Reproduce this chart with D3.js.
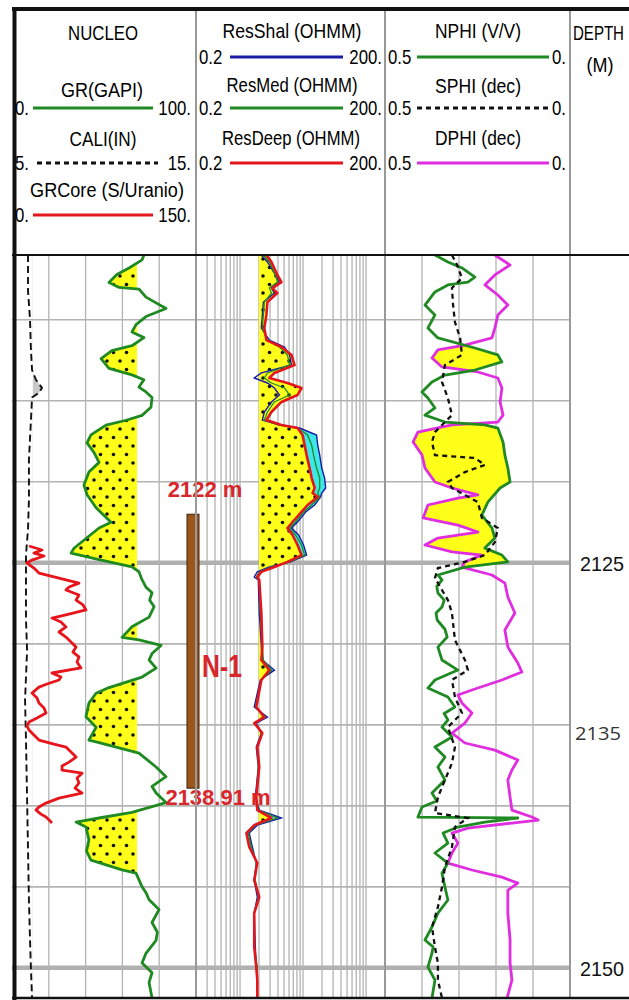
<!DOCTYPE html>
<html>
<head>
<meta charset="utf-8">
<script src="https://cdn.jsdelivr.net/npm/d3@7"></script>
<style>
  html, body { margin: 0; padding: 0; background: #fff; }
  svg { display: block; }
  .hdr { font-family: "Liberation Sans", Arial, sans-serif; font-size: 20px; fill: #000; }
  .core { font-family: "Liberation Sans", Arial, sans-serif; font-weight: bold; fill: #d8262a; }
</style>
</head>
<body>
<svg id="chart" width="629" height="1000"></svg>
<script>
// ---- scale ranges ----
const depthRange = [2106, 2151.86];
const grRange = [0, 100];
const caliRange = [5, 15];
const grCoreRange = [0, 150];
const resRange = [0.2, 200];
const porRange = [0.5, 0];

// ---- cutoffs ----
const grCutoff = 68;
const bitSize = 6.12;
const resBase = 2;

// ---- core interval ----
const coreTop = 2122;
const coreBottom = 2138.91;
const coreName = "N-1";

// ---- depth labels ----
const depthLabels = [2125, 2135, 2150];

// ---- Track 1: GR (GAPI) [depth, value] ----
const gr = [[2106.0,71.7],[2106.3,70.7],[2106.8,63.6],[2107.2,57.0],[2107.7,52.7],[2108.0,58.2],[2108.1,69.0],[2108.6,72.8],[2109.3,83.7],[2109.8,72.8],[2110.3,67.4],[2110.75,65.2],[2111.1,71.7],[2111.6,65.2],[2111.9,54.3],[2112.4,48.4],[2113.0,52.7],[2113.4,65.2],[2113.7,71.7],[2114.15,69.0],[2114.45,72.8],[2114.8,76.1],[2115.4,75.5],[2115.9,70.7],[2116.2,62.0],[2116.5,51.1],[2117.1,42.9],[2117.6,40.8],[2118.2,44.6],[2118.8,47.3],[2119.4,41.8],[2120.2,39.1],[2120.8,40.8],[2121.6,45.7],[2122.5,53.8],[2122.85,47.3],[2123.5,40.2],[2124.1,33.7],[2124.4,32.1],[2124.8,47.3],[2125.25,65.2],[2125.55,69.0],[2126.0,70.5],[2126.5,72.8],[2126.85,76.1],[2127.3,74.8],[2127.7,77.2],[2128.35,74.5],[2128.95,65.2],[2129.6,59.8],[2129.75,69.0],[2130.1,81.0],[2130.6,76.1],[2131.0,74.5],[2131.5,78.3],[2132.05,70.7],[2132.7,52.7],[2133.05,45.7],[2133.65,41.8],[2134.5,40.2],[2135.15,45.7],[2135.95,41.8],[2136.1,47.3],[2136.75,69.0],[2137.6,78.3],[2138.2,83.7],[2138.8,76.1],[2139.2,78.3],[2139.8,83.7],[2140.4,65.2],[2140.75,47.3],[2141.0,34.8],[2141.3,40.2],[2142.1,41.8],[2142.8,40.5],[2143.35,42.9],[2143.95,59.8],[2144.15,67.4],[2145.0,70.7],[2145.4,73.0],[2145.8,74.5],[2146.4,79.9],[2147.2,76.1],[2147.8,79.0],[2148.3,78.3],[2149.1,72.8],[2149.7,70.7],[2150.3,76.1],[2150.9,74.5],[2151.86,76.1]];

// ---- Track 1: CALI (IN) ----
const cali = [[2106.0,5.87],[2108.2,5.87],[2110.0,5.98],[2111.9,6.03],[2113.1,6.09],[2113.7,6.30],[2114.2,6.63],[2114.5,6.47],[2114.8,6.09],[2116.2,6.03],[2118.65,5.92],[2121.1,5.92],[2122.95,5.87],[2124.5,5.76],[2126.05,5.76],[2128.5,5.76],[2130.4,5.82],[2133.45,5.71],[2135.9,5.76],[2139.6,5.82],[2142.7,5.87],[2145.8,5.92],[2148.3,5.98],[2150.1,6.03],[2151.86,6.09]];

// ---- Track 1: GRCore (S/Uranio) ----
const grCore = [[2123.96,13.9],[2124.21,24.5],[2124.40,17.9],[2124.58,26.1],[2124.83,16.3],[2125.01,12.2],[2125.32,17.9],[2125.63,22.0],[2125.94,38.3],[2126.25,54.6],[2126.49,46.5],[2126.68,44.0],[2126.99,54.6],[2127.30,52.2],[2127.60,57.9],[2127.91,60.3],[2128.16,46.5],[2128.41,32.6],[2128.65,39.9],[2128.96,44.0],[2129.27,38.3],[2129.58,44.0],[2129.89,48.1],[2130.20,52.2],[2130.51,49.7],[2130.81,54.6],[2131.12,53.0],[2131.49,56.2],[2131.80,32.6],[2132.05,39.9],[2132.23,38.3],[2132.48,28.5],[2132.67,22.0],[2133.04,16.3],[2133.35,20.4],[2133.65,22.0],[2133.96,26.1],[2134.27,27.7],[2134.58,20.4],[2134.83,13.9],[2135.07,12.2],[2135.32,13.9],[2135.63,17.9],[2135.94,22.0],[2136.19,34.2],[2136.37,44.0],[2136.68,48.1],[2136.99,52.2],[2137.30,46.5],[2137.54,40.8],[2137.79,40.8],[2137.98,57.1],[2138.28,53.0],[2138.59,54.6],[2138.90,51.4],[2139.21,57.1],[2139.52,38.3],[2139.83,27.7],[2140.07,22.0],[2140.26,19.6],[2140.51,23.6],[2140.69,27.7],[2140.88,30.2],[2141.06,32.6]];

// ---- Track 2: resistivity (OHMM), shared depth samples ----
const resDepth = [2106.00,2106.43,2107.23,2107.67,2108.04,2108.35,2108.90,2109.70,2110.51,2111.25,2111.68,2112.17,2112.79,2113.28,2113.59,2113.90,2114.21,2114.64,2115.07,2115.69,2116.19,2116.49,2116.68,2117.11,2117.73,2118.35,2119.15,2119.77,2120.38,2120.69,2120.94,2121.43,2121.86,2122.48,2122.85,2123.28,2123.90,2124.52,2124.94,2125.26,2125.56,2125.88,2126.06,2128.10,2130.20,2131.00,2131.62,2132.23,2133.90,2134.52,2134.89,2135.51,2136.37,2137.60,2139.46,2140.26,2140.75,2141.19,2141.68,2142.54,2143.53,2144.58,2145.63,2146.62,2148.72,2149.95,2150.75,2151.86];
const resDeep = [2.62,3.15,3.92,4.54,3.27,3.92,2.72,2.62,2.43,2.62,4.54,6.56,7.33,3.51,2.92,5.66,9.47,8.19,4.54,3.15,2.62,4.54,8.19,9.82,10.6,11.4,12.7,13.7,15.3,14.2,17.1,11.8,9.47,6.81,5.66,6.81,8.19,9.47,5.66,3.51,2.18,1.88,2.02,2.18,2.26,2.18,2.92,2.18,1.81,2.43,1.68,2.26,1.88,2.02,1.81,1.88,3.15,1.68,1.26,1.40,1.88,1.68,2.02,1.68,1.68,1.81,1.88,1.88];
const resMed = [2.35,2.92,3.65,3.92,2.92,3.15,2.43,2.35,2.26,2.72,4.22,5.66,6.10,2.72,2.43,3.15,5.07,6.10,3.51,2.72,2.43,4.22,8.19,11.8,13.7,14.7,16.4,18.4,18.4,17.1,18.4,13.7,10.2,7.60,6.10,7.60,9.47,10.6,6.10,3.15,2.02,1.81,2.02,2.10,2.26,2.35,3.15,2.18,1.75,2.52,1.75,2.18,1.88,1.95,1.81,1.95,3.92,1.75,1.35,1.51,1.81,1.75,1.95,1.68,1.68,1.88,1.88,1.88];
const resShal = [2.18,2.72,3.65,4.22,3.15,3.51,2.35,2.26,2.18,2.92,5.07,6.10,6.56,2.18,1.68,2.72,3.51,4.22,3.15,2.43,2.26,4.22,8.81,16.4,17.1,18.4,19.8,22.0,22.9,19.8,19.0,15.3,11.0,8.19,6.56,8.49,10.2,11.4,6.33,2.92,1.88,1.68,1.95,2.02,2.18,2.26,3.51,2.10,1.68,2.72,1.81,2.18,1.81,1.95,1.75,2.02,4.54,1.88,1.40,1.57,1.81,1.68,1.88,1.68,1.75,1.81,1.88,1.88];

// ---- Track 3: porosity ----
const nphi = [[2106.00,0.365],[2106.43,0.330],[2106.80,0.292],[2107.36,0.257],[2107.67,0.276],[2107.85,0.330],[2108.28,0.365],[2109.09,0.392],[2109.70,0.365],[2110.51,0.384],[2111.12,0.357],[2111.74,0.257],[2112.17,0.195],[2112.60,0.184],[2113.10,0.257],[2113.41,0.338],[2113.84,0.373],[2114.46,0.400],[2114.83,0.384],[2115.44,0.365],[2115.88,0.392],[2116.31,0.338],[2116.49,0.230],[2116.68,0.195],[2117.54,0.181],[2118.35,0.176],[2119.15,0.168],[2120.01,0.162],[2120.38,0.189],[2121.25,0.222],[2122.05,0.238],[2122.85,0.211],[2123.47,0.203],[2124.09,0.230],[2124.52,0.184],[2124.94,0.168],[2125.26,0.284],[2125.75,0.357],[2126.06,0.346],[2126.45,0.360],[2126.86,0.357],[2127.30,0.340],[2127.73,0.346],[2128.10,0.362],[2128.53,0.359],[2129.10,0.338],[2129.58,0.332],[2130.20,0.357],[2131.00,0.346],[2131.62,0.303],[2132.23,0.365],[2132.73,0.384],[2133.28,0.330],[2133.90,0.311],[2134.30,0.340],[2134.70,0.330],[2135.14,0.346],[2135.75,0.319],[2136.37,0.365],[2136.99,0.338],[2137.60,0.357],[2138.41,0.338],[2139.21,0.373],[2139.70,0.360],[2140.07,0.400],[2140.69,0.411],[2140.75,0.141],[2141.00,0.230],[2141.31,0.303],[2141.68,0.343],[2142.30,0.330],[2142.91,0.365],[2143.53,0.330],[2144.15,0.346],[2145.01,0.338],[2145.81,0.330],[2146.62,0.357],[2147.48,0.373],[2148.28,0.392],[2148.70,0.370],[2149.09,0.373],[2149.95,0.384],[2150.75,0.365],[2151.86,0.373]];
const sphi = [[2106.00,0.319],[2106.62,0.305],[2107.42,0.292],[2108.04,0.319],[2109.09,0.316],[2110.14,0.311],[2111.12,0.297],[2112.17,0.292],[2112.79,0.338],[2113.84,0.346],[2114.83,0.330],[2115.88,0.319],[2116.31,0.338],[2116.93,0.365],[2117.54,0.373],[2118.35,0.365],[2118.53,0.257],[2118.96,0.230],[2119.40,0.284],[2120.01,0.330],[2120.38,0.319],[2121.25,0.249],[2122.23,0.238],[2122.85,0.195],[2123.72,0.203],[2124.52,0.230],[2124.94,0.284],[2125.32,0.357],[2125.94,0.365],[2127.30,0.330],[2128.10,0.319],[2129.77,0.311],[2131.00,0.284],[2131.62,0.276],[2132.23,0.319],[2133.28,0.311],[2134.27,0.292],[2135.14,0.330],[2136.37,0.311],[2137.36,0.319],[2138.41,0.338],[2139.46,0.357],[2140.44,0.365],[2140.75,0.276],[2141.31,0.311],[2142.54,0.319],[2143.78,0.338],[2145.01,0.346],[2146.25,0.357],[2147.48,0.373],[2148.72,0.365],[2149.70,0.357],[2150.75,0.357],[2151.86,0.346]];
const dphi = [[2106.00,0.203],[2106.62,0.162],[2107.23,0.203],[2107.85,0.230],[2108.47,0.195],[2109.09,0.168],[2109.70,0.195],[2110.51,0.203],[2111.12,0.211],[2111.56,0.284],[2111.86,0.357],[2112.36,0.373],[2112.91,0.346],[2113.22,0.249],[2113.59,0.195],[2114.21,0.184],[2115.07,0.189],[2115.88,0.181],[2116.31,0.195],[2116.49,0.319],[2116.93,0.411],[2117.54,0.424],[2118.35,0.400],[2119.15,0.392],[2120.01,0.365],[2120.38,0.319],[2120.81,0.249],[2121.00,0.303],[2121.43,0.384],[2122.23,0.397],[2122.67,0.303],[2123.10,0.249],[2123.47,0.357],[2123.90,0.392],[2124.33,0.319],[2124.52,0.238],[2124.94,0.284],[2125.26,0.292],[2125.75,0.211],[2126.25,0.176],[2127.11,0.168],[2128.10,0.149],[2129.15,0.176],[2130.20,0.168],[2131.19,0.141],[2131.74,0.130],[2132.23,0.184],[2132.85,0.265],[2133.16,0.303],[2133.65,0.292],[2134.27,0.265],[2134.89,0.284],[2135.51,0.319],[2136.12,0.284],[2136.56,0.203],[2137.17,0.141],[2137.79,0.157],[2138.41,0.168],[2139.46,0.162],[2140.26,0.157],[2140.69,0.103],[2140.88,0.086],[2141.06,0.157],[2141.37,0.276],[2141.68,0.319],[2142.30,0.303],[2142.91,0.319],[2143.53,0.330],[2143.96,0.265],[2144.40,0.184],[2144.77,0.141],[2145.20,0.168],[2146.62,0.168],[2148.28,0.162],[2149.70,0.162],[2150.75,0.157],[2151.86,0.170]];

// ---------------------------------------------------------------------------
const svg = d3.select("#chart");
const T1 = [12, 196], T2 = [196, 385], T3 = [385, 570];
const dataTop = 255, dataBottom = 998;

const y = d3.scaleLinear().domain(depthRange).range([dataTop, dataBottom]);
const xGR = d3.scaleLinear().domain(grRange).range(T1);
const xCali = d3.scaleLinear().domain(caliRange).range(T1);
const xCore = d3.scaleLinear().domain(grCoreRange).range(T1);
const xRes = d3.scaleLog().domain(resRange).range(T2);
const xPor = d3.scaleLinear().domain(porRange).range(T3);

const defs = svg.append("defs");

// yellow sand fill with black dots
const pat = defs.append("pattern").attr("id", "sand")
  .attr("patternUnits", "userSpaceOnUse").attr("width", 13).attr("height", 17);
pat.append("rect").attr("width", 13).attr("height", 17).attr("fill", "#ffff1a");
pat.append("circle").attr("cx", 3).attr("cy", 4).attr("r", 1.8).attr("fill", "#111");
pat.append("circle").attr("cx", 9.5).attr("cy", 12.5).attr("r", 1.8).attr("fill", "#111");

function clipRect(id, x0, x1) {
  defs.append("clipPath").attr("id", id).append("rect")
    .attr("x", x0).attr("y", dataTop).attr("width", x1 - x0).attr("height", dataBottom - dataTop);
}
function clipArea(id, pts, xl, xr) {
  defs.append("clipPath").attr("id", id).append("path")
    .attr("d", d3.area().y(d => y(d[0])).x0(xl).x1(xr)(pts));
}

// ---- grid ----
const grid = svg.append("g");
const gridColor = "#b3b3b3";
function vLines(xs) {
  grid.selectAll(null).data(xs).join("line")
    .attr("x1", d => d).attr("x2", d => d)
    .attr("y1", dataTop).attr("y2", dataBottom)
    .attr("stroke", gridColor).attr("stroke-width", 1.3);
}
vLines(xGR.ticks(5).slice(1, -1).map(xGR));
vLines(xRes.ticks().filter(v => v > resRange[0] && v < resRange[1]).map(xRes));
vLines(xPor.ticks(5).slice(1, -1).map(xPor));

const depthLines = d3.range(2110, 2151, 5);
grid.selectAll(null).data(depthLines).join("line")
  .attr("x1", T1[0]).attr("x2", T3[1])
  .attr("y1", d => y(d)).attr("y2", d => y(d))
  .attr("stroke", d => d % 25 === 0 ? "#b0b0b0" : gridColor)
  .attr("stroke-width", d => d % 25 === 0 ? 4.5 : 1.6);

// ---- Track 1 ----
const t1 = svg.append("g");
clipRect("grLeft", T1[0], xGR(grCutoff));
t1.append("path")
  .attr("d", d3.area().y(d => y(d[0])).x0(xGR(grCutoff)).x1(d => xGR(d[1]))(gr))
  .attr("fill", "url(#sand)").attr("clip-path", "url(#grLeft)");

clipRect("caliRight", xCali(bitSize), T1[1]);
t1.append("path")
  .attr("d", d3.area().y(d => y(d[0])).x0(xCali(bitSize)).x1(d => xCali(d[1]))(cali))
  .attr("fill", "#c8c8c8").attr("clip-path", "url(#caliRight)");

const lineOf = xs => d3.line().y(d => y(d[0])).x(d => xs(d[1]));

t1.append("path").attr("d", lineOf(xCali)(cali))
  .attr("fill", "none").attr("stroke", "#111").attr("stroke-width", 1.9).attr("stroke-dasharray", "7,4");
t1.append("path").attr("d", lineOf(xCore)(grCore))
  .attr("fill", "none").attr("stroke", "#e8141c").attr("stroke-width", 2.8).attr("stroke-linejoin", "round");
t1.append("path").attr("d", lineOf(xGR)(gr))
  .attr("fill", "none").attr("stroke", "#1f8a22").attr("stroke-width", 2.8).attr("stroke-linejoin", "round");

// ---- Track 2 ----
const t2 = svg.append("g");
const deepPts = resDepth.map((d, i) => [d, resDeep[i]]);
const medPts = resDepth.map((d, i) => [d, resMed[i]]);
const shalPts = resDepth.map((d, i) => [d, resShal[i]]);

clipRect("resRight", xRes(resBase), T2[1]);
t2.append("path")
  .attr("d", d3.area().y(d => y(d[0])).x0(xRes(resBase)).x1(d => xRes(d[1]))(deepPts))
  .attr("fill", "url(#sand)").attr("clip-path", "url(#resRight)");

// invasion separation: shallow reading above deep
clipArea("shalLeft", shalPts, T2[0], d => xRes(d[1]));
t2.append("path")
  .attr("d", d3.area().y(d => y(d[0])).x0(d => xRes(d[1])).x1(T2[1])(deepPts))
  .attr("fill", "#3ee6e6").attr("clip-path", "url(#shalLeft)");

t2.append("path").attr("d", lineOf(xRes)(shalPts))
  .attr("fill", "none").attr("stroke", "#1b1ba8").attr("stroke-width", 1.4);
t2.append("path").attr("d", lineOf(xRes)(medPts))
  .attr("fill", "none").attr("stroke", "#1f8a22").attr("stroke-width", 1.3);
t2.append("path").attr("d", lineOf(xRes)(deepPts))
  .attr("fill", "none").attr("stroke", "#e3161c").attr("stroke-width", 2.6).attr("stroke-linejoin", "round");

// ---- Track 3 ----
const t3 = svg.append("g");
// density-neutron crossover: DPHI reading above NPHI
clipArea("nphiLeft", nphi, T3[0], d => xPor(d[1]));
t3.append("path")
  .attr("d", d3.area().y(d => y(d[0])).x0(d => xPor(d[1])).x1(T3[1])(dphi))
  .attr("fill", "#ffff1a").attr("clip-path", "url(#nphiLeft)");

t3.append("path").attr("d", lineOf(xPor)(dphi))
  .attr("fill", "none").attr("stroke", "#e02de0").attr("stroke-width", 2.8).attr("stroke-linejoin", "round");
t3.append("path").attr("d", lineOf(xPor)(nphi))
  .attr("fill", "none").attr("stroke", "#1f8a22").attr("stroke-width", 2.8).attr("stroke-linejoin", "round");
t3.append("path").attr("d", lineOf(xPor)(sphi))
  .attr("fill", "none").attr("stroke", "#111").attr("stroke-width", 2.3).attr("stroke-dasharray", "5,4");

// ---- core interval ----
const cg = svg.append("g");
const yTop = y(coreTop), yBot = y(coreBottom);
cg.append("rect").attr("x", 187).attr("y", yTop).attr("width", 12).attr("height", yBot - yTop)
  .attr("fill", "#9c561c").attr("stroke", "#3b2410").attr("stroke-width", 1);
cg.append("text").attr("class", "core").attr("x", 205).attr("y", yTop - 17)
  .attr("text-anchor", "middle").attr("font-size", 22).text(`${coreTop} m`);
cg.append("text").attr("class", "core").attr("x", 218).attr("y", yBot + 17)
  .attr("text-anchor", "middle").attr("font-size", 22).text(`${coreBottom} m`);
cg.append("text").attr("class", "core")
  .attr("x", 202).attr("y", (yTop + yBot) / 2 + 26)
  .attr("font-size", 32)
  .attr("textLength", 40).attr("lengthAdjust", "spacingAndGlyphs")
  .text(coreName);

// ---- depth labels ----
const dg = svg.append("g");
dg.selectAll(null).data(depthLabels).join("text")
  .attr("x", d => d % 25 === 0 ? 580 : 575)
  .attr("y", d => d % 25 === 0 ? y(d) + 8 : y(d) + 15)
  .style("font-family", d => d % 25 === 0 ? "'Liberation Sans',Arial,sans-serif" : "'Open Sans',sans-serif")
  .attr("font-size", d => d % 25 === 0 ? 21 : 19)
  .attr("fill", d => d % 25 === 0 ? "#111" : "#333")
  .attr("textLength", d => d % 25 === 0 ? 44 : 46)
  .attr("lengthAdjust", "spacingAndGlyphs")
  .text(d => d);

// ---- track dividers & frame ----
const fr = svg.append("g");
[T2[0], T3[0], T3[1]].forEach(x => {
  fr.append("line").attr("x1", x).attr("x2", x).attr("y1", 10).attr("y2", dataBottom)
    .attr("stroke", "#999").attr("stroke-width", 2);
});
fr.append("line").attr("x1", 12).attr("x2", 629).attr("y1", 9).attr("y2", 9)
  .attr("stroke", "#111").attr("stroke-width", 4);
fr.append("line").attr("x1", 12).attr("x2", 629).attr("y1", dataTop).attr("y2", dataTop)
  .attr("stroke", "#111").attr("stroke-width", 2);
fr.append("line").attr("x1", 12).attr("x2", 629).attr("y1", dataBottom).attr("y2", dataBottom)
  .attr("stroke", "#111").attr("stroke-width", 2.5);
fr.append("line").attr("x1", 14.5).attr("x2", 14.5).attr("y1", 7).attr("y2", 1000)
  .attr("stroke", "#111").attr("stroke-width", 4);

// ---- header (condensed lettering via horizontal scaling) ----
const hg = svg.append("g").attr("class", "hdr");
function htext(x, yy, s, width, anchor) {
  const g = hg.append("g");
  const t = g.append("text").attr("x", 0).attr("y", 0)
    .attr("text-anchor", anchor || "middle").text(s);
  const natural = t.node().getComputedTextLength();
  const sx = width ? width / natural : 0.84;
  g.attr("transform", `translate(${x},${yy}) scale(${sx},1)`);
}
function hcurve(c) {
  htext(c.tx, c.ty, c.title, c.tw);
  hg.append("line").attr("x1", c.lx0).attr("x2", c.lx1).attr("y1", c.ly).attr("y2", c.ly)
    .attr("stroke", c.color).attr("stroke-width", 3).attr("stroke-dasharray", c.dash || null);
  htext(c.xl, c.ly + 7, c.lo, null, "start");
  htext(c.xr, c.ly + 7, c.hi, null, "end");
}
htext(103, 40, "NUCLEO", 70);
hcurve({title: "GR(GAPI)", tw: 82, lo: grRange[0] + ".", hi: grRange[1] + ".", tx: 102, ty: 97, ly: 108, lx0: 33, lx1: 153, xl: 15, xr: 191, color: "#1f8a22"});
hcurve({title: "CALI(IN)", tw: 67, lo: caliRange[0] + ".", hi: caliRange[1] + ".", tx: 103, ty: 146, ly: 163, lx0: 37, lx1: 158, xl: 15, xr: 191, color: "#111", dash: "5,4"});
hcurve({title: "GRCore (S/Uranio)", tw: 154, lo: grCoreRange[0] + ".", hi: grCoreRange[1] + ".", tx: 107, ty: 197, ly: 215, lx0: 33, lx1: 153, xl: 15, xr: 191, color: "#e3161c"});

hcurve({title: "ResShal (OHMM)", tw: 139, lo: "0.2", hi: "200.", tx: 292, ty: 38, ly: 57, lx0: 230, lx1: 343, xl: 199, xr: 382, color: "#1b1ba8"});
hcurve({title: "ResMed (OHMM)", tw: 131, lo: "0.2", hi: "200.", tx: 292, ty: 92, ly: 108, lx0: 230, lx1: 343, xl: 199, xr: 382, color: "#1f8a22"});
hcurve({title: "ResDeep (OHMM)", tw: 138, lo: "0.2", hi: "200.", tx: 291, ty: 145, ly: 163, lx0: 230, lx1: 343, xl: 199, xr: 382, color: "#e3161c"});

hcurve({title: "NPHI (V/V)", tw: 86, lo: "0.5", hi: "0.", tx: 478, ty: 38, ly: 57, lx0: 417, lx1: 549, xl: 388, xr: 566, color: "#1f8a22"});
hcurve({title: "SPHI (dec)", tw: 86, lo: "0.5", hi: "0.", tx: 478, ty: 93, ly: 108, lx0: 417, lx1: 549, xl: 388, xr: 566, color: "#111", dash: "5,4"});
hcurve({title: "DPHI (dec)", tw: 86, lo: "0.5", hi: "0.", tx: 478, ty: 145, ly: 163, lx0: 417, lx1: 549, xl: 388, xr: 566, color: "#e02de0"});

htext(573, 40, "DEPTH", 51, "start");
htext(600, 72, "(M)", 27);
</script>
</body>
</html>
